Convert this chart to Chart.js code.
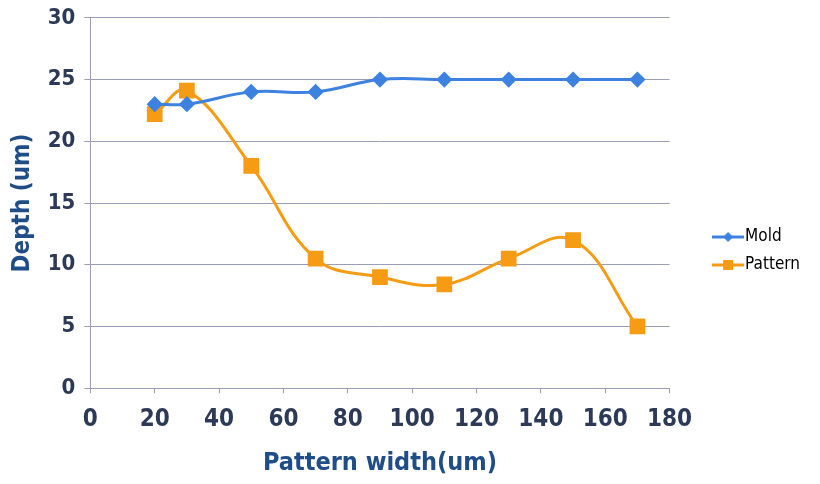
<!DOCTYPE html>
<html>
<head>
<meta charset="utf-8">
<script src="https://cdn.jsdelivr.net/npm/chart.js@4"></script>
<style>
  html,body{margin:0;padding:0;background:#fff}
  #wrap{width:820px;height:484px;position:relative}
</style>
</head>
<body>
<div id="wrap"><canvas id="c" width="820" height="484"></canvas></div>
<script>
const widths = [20, 30, 50, 70, 90, 110, 130, 150, 170];
const moldDepth = [23, 23, 24, 24, 25, 25, 25, 25, 25];
const patternDepth = [22.2, 24.1, 18, 10.5, 9, 8.4, 10.5, 12, 5];
const seriesNames = ['Mold', 'Pattern'];
const xTitle = 'Pattern width(um)';
const yTitle = 'Depth (um)';

const blue = '#3d82e0', orange = '#f59c14';
const tickColor = '#2c3a58', titleColor = '#1f4d88', gridColor = '#9a9db8';
const narrow = "'DejaVu Sans Condensed','Liberation Sans Narrow',sans-serif";
const legendGap = 39;

// legend swatch: line with marker in the middle
function swatch(color, kind){
  const cv = document.createElement('canvas');
  cv.width = 32; cv.height = 14;
  const g = cv.getContext('2d');
  g.strokeStyle = color; g.lineWidth = 3;
  g.beginPath(); g.moveTo(0,7); g.lineTo(32,7); g.stroke();
  g.fillStyle = color;
  if(kind==='diamond'){
    g.beginPath(); g.moveTo(16,2); g.lineTo(21,7); g.lineTo(16,12); g.lineTo(11,7); g.closePath(); g.fill();
  } else {
    g.fillRect(11,2,10,10);
  }
  return cv;
}
const swatches = [swatch(blue,'diamond'), swatch(orange,'square')];

function pts(ys){ return widths.map((x,i)=>({x:x, y:ys[i]})); }

// push the legend away from the plot area
const legendShift = {
  id: 'legendShift',
  beforeInit(chart){
    const lg = chart.legend;
    const fit = lg.fit;
    lg.fit = function(){ fit.call(this); if(this.isHorizontal && !this.isHorizontal()) this.width += legendGap; };
  },
  afterLayout(chart){ chart.legend.left += legendGap; chart.legend.top += 12; chart.legend.bottom += 12; }
};

new Chart(document.getElementById('c'), {
  type: 'line',
  data: {
    datasets: [
      { label: seriesNames[0], data: pts(moldDepth), borderColor: blue, backgroundColor: blue,
        borderWidth: 3, tension: 0.4, pointStyle: 'rectRot', pointRadius: 6, pointHoverRadius: 6 },
      { label: seriesNames[1], data: pts(patternDepth), borderColor: orange, backgroundColor: orange,
        borderWidth: 3, tension: 0.4, pointStyle: 'rect', pointRadius: 9, pointHoverRadius: 9 }
    ]
  },
  plugins: [legendShift],
  options: {
    responsive: false,
    animation: false,
    layout: { padding: { top: 0, right: 10, left: 4, bottom: 6 } },
    plugins: {
      tooltip: { enabled: false },
      legend: {
        position: 'right',
        labels: {
          usePointStyle: true,
          color: tickColor,
          font: { family: narrow, size: 17 },
          padding: 11,
          generateLabels(chart){
            return chart.data.datasets.map((d,i)=>({
              text: d.label, fillStyle: d.borderColor, strokeStyle: d.borderColor,
              pointStyle: swatches[i], datasetIndex: i, hidden: false, lineWidth: 0
            }));
          }
        }
      }
    },
    scales: {
      x: {
        type: 'linear', min: 0, max: 180,
        ticks: { stepSize: 20, color: tickColor, font: { family: narrow, size: 24, weight: 'bold' }, padding: 12 },
        grid: { drawOnChartArea: false, color: gridColor, tickLength: 5 },
        border: { color: gridColor, width: 1 },
        title: { display: true, text: xTitle, color: titleColor, font: { family: narrow, size: 25, weight: 'bold' }, padding: { top: 2, bottom: 0 } }
      },
      y: {
        min: 0, max: 30,
        ticks: { stepSize: 5, color: tickColor, font: { family: narrow, size: 22, weight: 'bold', lineHeight: 0.8 }, padding: 9 },
        grid: { color: gridColor, tickLength: 6 },
        border: { color: gridColor, width: 1 },
        title: { display: true, text: yTitle, color: titleColor, font: { family: narrow, size: 24, weight: 'bold' }, padding: { bottom: 2 } }
      }
    }
  }
});
</script>
</body>
</html>
